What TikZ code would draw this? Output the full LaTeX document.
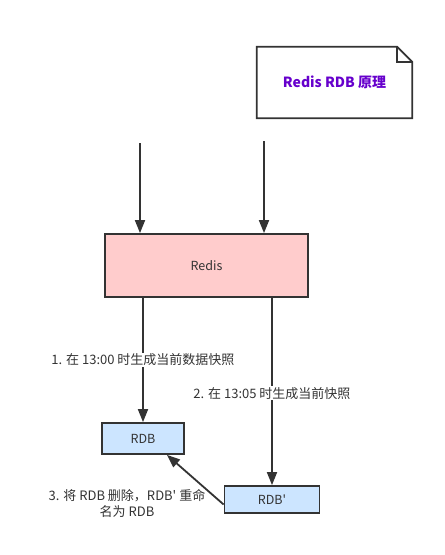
\documentclass[tikz,border=0pt]{standalone}
\usepackage{fontspec}
\setmainfont{Noto Sans CJK SC}
\usetikzlibrary{arrows.meta}
\definecolor{linec}{HTML}{333333}
\definecolor{redisfill}{HTML}{FFCCCC}
\definecolor{rdbfill}{HTML}{CCE5FF}
\definecolor{titlec}{HTML}{6600CC}

\begin{document}
\begin{tikzpicture}[x=1pt, y=-1pt,
	bstyle/.style={draw=linec, line width=1.8pt, inner sep=0pt,
	font=\fontsize{12.5}{14}\selectfont, text=linec},
	astyle/.style={draw=linec, line width=1.8pt, -{Triangle[length=13pt, width=10pt]}},
	lstyle/.style={fill=white, inner sep=1pt, text=linec,
	font=\fontsize{13}{16}\selectfont, align=center}
	]
	\useasboundingbox (0,0) rectangle (445,555);
	
	\node[minimum width=155pt, minimum height=71pt, inner sep=0pt,
	text=titlec, font=\bfseries\fontsize{14}{16}\selectfont] (title) at (334.5,82.5) {Redis RDB 原理};
	\draw[draw=linec, line width=1.8pt]
	(title.north west) -- ([xshift=-15pt]title.north east)
	-- ([yshift=-15pt]title.north east) -- (title.south east)
	-- (title.south west) -- cycle;
	\draw[draw=linec, line width=1.8pt]
	([xshift=-15pt]title.north east) -- ++(0,15) -- ([yshift=-15pt]title.north east);
	
	\node[bstyle, fill=redisfill, minimum width=203pt, minimum height=63pt] (redis) at (206.5,265.5) {Redis};
	\node[bstyle, fill=rdbfill, minimum width=82pt, minimum height=31pt] (rdb) at (143,438.5) {RDB};
	\node[bstyle, fill=rdbfill, minimum width=95pt, minimum height=27pt] (rdbp) at (272,499.5) {RDB\textquotesingle};
	
	\coordinate (in1) at (140,143);
	\coordinate (in2) at (264,141);
	\draw[astyle] (in1) -- (in1 |- redis.north);
	\draw[astyle] (in2) -- (in2 |- redis.north);
	
	\draw[astyle] (rdb.north |- redis.south) -- (rdb.north)
	node[lstyle, pos=0.5] (l1) {1. 在 13:00 时生成当前数据快照};
	\draw[astyle] (rdbp.north |- redis.south) -- (rdbp.north)
	node[lstyle, pos=0.51] (l2) {2. 在 13:05 时生成当前快照};
	
	\coordinate (back) at ([xshift=24pt]rdb.south);
	\draw[astyle] ([yshift=-5pt]rdbp.west) -- (back);
	\node[lstyle, fill=none] (l3) at (127,503) {3. 将 RDB 删除，RDB\textquotesingle{} 重命\\名为 RDB};
\end{tikzpicture}
\end{document}
